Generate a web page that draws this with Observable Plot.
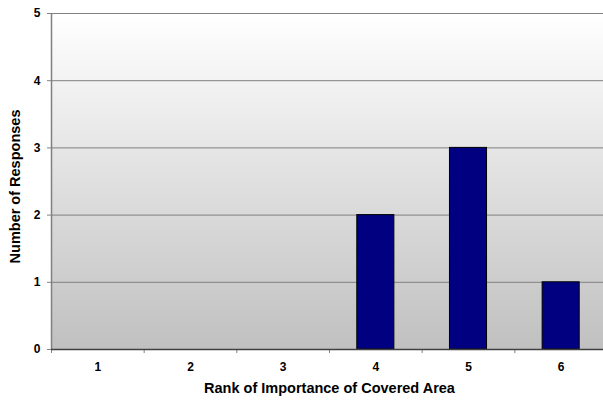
<!DOCTYPE html>
<html>
<head>
<meta charset="utf-8">
<script src="https://cdn.jsdelivr.net/npm/d3@7"></script>
<script src="https://cdn.jsdelivr.net/npm/@observablehq/plot@0.6"></script>
<style>
  html, body { margin: 0; padding: 0; background: #fff; overflow: hidden; }
  #chart { width: 603px; height: 403px; overflow: hidden; }
  #chart svg { display: block; max-width: none !important; }
</style>
</head>
<body>
<div id="chart"></div>
<script>
const ranks = [1, 2, 3, 4, 5, 6];
const responses = [0, 0, 0, 2, 3, 1];
const yTicks = [0, 1, 2, 3, 4, 5];
const xLabel = "Rank of Importance of Covered Area";
const yLabel = "Number of Responses";

const data = ranks.map((r, i) => ({rank: r, count: responses[i]})).filter(d => d.count > 0);
const boundaries = [0.5, ...ranks.map(r => r + 0.5)];

const plot = Plot.plot({
  width: 607,
  height: 403,
  marginLeft: 51,
  marginRight: 0,
  marginTop: 13,
  marginBottom: 54,
  style: {fontFamily: "Liberation Sans, Arial, sans-serif", fontSize: "12px", fontWeight: "bold", color: "#000", background: "transparent", maxWidth: "none"},
  x: {domain: [0.5, 6.5], axis: null},
  y: {domain: [0, 5], axis: null},
  marks: [
    Plot.frame({fill: "url(#bggrad)", stroke: "none"}),
    Plot.gridY(yTicks.filter(t => t > 0), {stroke: "#808080", strokeOpacity: 1, strokeWidth: 1}),
    Plot.ruleX([0.5], {stroke: "#808080", strokeWidth: 1.5}),
    Plot.axisY({ticks: yTicks, tickSize: 4, tickPadding: 7, stroke: "#808080", tickFormat: d3.format("d"), label: null, fontWeight: "bold", fontSize: 12}),
    Plot.axisX({ticks: boundaries, tickSize: 4, tickFormat: () => "", stroke: "#808080", label: null}),
    Plot.axisX({ticks: ranks, tickSize: 0, tickPadding: 13, tickFormat: d3.format("d"), label: null, fontWeight: "bold", fontSize: 12}),
    Plot.rectY(data, {x1: d => d.rank - 0.2, x2: d => d.rank + 0.2, y: "count", fill: "#000080", stroke: "#000", strokeWidth: 1}),
    Plot.ruleY([0], {stroke: "#404040", strokeWidth: 1.5}),
    Plot.text([xLabel], {frameAnchor: "bottom", dy: 43, fontWeight: "bold", fontSize: 14.5, dx: 0}),
    Plot.text([yLabel], {frameAnchor: "left", textAnchor: "middle", rotate: -90, dx: -36, dy: 5, fontWeight: "bold", fontSize: 14.5})
  ]
});

const svgNS = "http://www.w3.org/2000/svg";
const defs = document.createElementNS(svgNS, "defs");
defs.innerHTML = '<linearGradient id="bggrad" x1="0" y1="0" x2="0" y2="1"><stop offset="0" stop-color="#ffffff"/><stop offset="1" stop-color="#c0c0c0"/></linearGradient>';
plot.insertBefore(defs, plot.firstChild);
document.getElementById("chart").appendChild(plot);
</script>
</body>
</html>
